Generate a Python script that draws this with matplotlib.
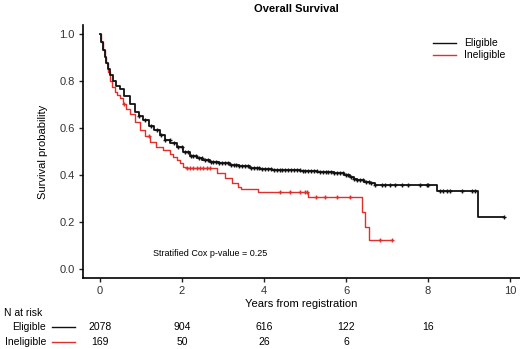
import numpy as np
import matplotlib
matplotlib.use("Agg")
import matplotlib.pyplot as plt
import matplotlib.transforms as mtransforms
from matplotlib.lines import Line2D

plt.rcParams['font.family'] = ['Liberation Sans', 'DejaVu Sans']

# Kaplan-Meier step points (years, survival)
elig_t = [0, 0.04, 0.08, 0.12, 0.16, 0.2, 0.25, 0.32, 0.4, 0.49, 0.6, 0.73, 0.85, 0.95,
          1.06, 1.2, 1.33, 1.46, 1.6, 1.71, 1.87, 2.03, 2.2, 2.36, 2.5, 2.68, 2.9, 3.17,
          3.4, 3.66, 3.9, 4.2, 4.5, 4.88, 5.3, 5.7, 5.95, 6.1, 6.2, 6.27, 6.45, 6.59, 6.7,
          8.22, 9.22, 9.84]
elig_s = [1.0, 0.965, 0.93, 0.90, 0.875, 0.85, 0.825, 0.80, 0.78, 0.765, 0.735, 0.70, 0.67,
          0.65, 0.634, 0.61, 0.59, 0.57, 0.55, 0.535, 0.52, 0.50, 0.482, 0.472, 0.465, 0.457,
          0.45, 0.443, 0.437, 0.43, 0.426, 0.423, 0.42, 0.416, 0.412, 0.407, 0.40, 0.392,
          0.385, 0.379, 0.372, 0.366, 0.357, 0.332, 0.221, 0.221]

inel_t = [0, 0.04, 0.08, 0.12, 0.16, 0.2, 0.24, 0.3, 0.37, 0.43, 0.49, 0.57, 0.65, 0.73,
          0.85, 0.98, 1.1, 1.22, 1.38, 1.54, 1.71, 1.79, 1.87, 1.95, 2.03, 2.1, 2.85, 3.05,
          3.21, 3.37, 3.45, 3.86, 5.08, 6.38, 6.46, 6.55, 7.11]
inel_s = [1.0, 0.965, 0.93, 0.90, 0.875, 0.84, 0.80, 0.775, 0.755, 0.74, 0.726, 0.70, 0.68,
          0.66, 0.625, 0.59, 0.565, 0.54, 0.52, 0.506, 0.49, 0.475, 0.464, 0.45, 0.435,
          0.428, 0.407, 0.386, 0.364, 0.35, 0.339, 0.329, 0.305, 0.244, 0.18, 0.123, 0.123]

# censoring times
elig_cens = [0.95, 1.1, 1.25, 1.4, 1.5, 1.6, 1.7, 1.8, 1.9, 2.0, 2.07, 2.14, 2.21, 2.28,
             2.35, 2.42, 2.49, 2.56, 2.63, 2.7, 2.77, 2.84, 2.91, 2.98, 3.05, 3.12, 3.19,
             3.26, 3.33, 3.4, 3.47, 3.54, 3.61, 3.68, 3.75, 3.82, 3.89, 3.96, 4.03, 4.1,
             4.17, 4.24, 4.31, 4.38, 4.45, 4.52, 4.59, 4.66, 4.73, 4.8, 4.87, 4.94, 5.01,
             5.08, 5.15, 5.22, 5.29, 5.36, 5.43, 5.5, 5.57, 5.64, 5.71, 5.78, 5.85, 5.92,
             5.99, 6.06, 6.13, 6.2, 6.27, 6.34, 6.41, 6.48, 6.55, 6.62, 6.7, 6.87, 6.95,
             7.07, 7.2, 7.36, 7.52, 7.8, 7.97, 8.0, 8.29, 8.37, 8.46, 8.54, 8.82, 9.07,
             9.15, 9.84]
inel_cens = [0.6, 1.2, 2.12, 2.2, 2.28, 2.36, 2.44, 2.52, 2.6, 2.68, 4.39, 4.63, 4.88,
             5.0, 5.04, 5.28, 5.49, 5.77, 6.1, 6.83, 7.11]

risk_times = [0, 2, 4, 6, 8]
elig_risk = ["2078", "904", "616", "122", "16"]
inel_risk = ["169", "50", "26", "6"]

BLACK = "#111111"
RED = "#e0302c"


def surv_at(times, surv, c):
    idx = np.searchsorted(times, c, side="right") - 1
    return np.asarray(surv)[idx]


fig = plt.figure(figsize=(5.2, 3.49), dpi=100)
ax = fig.add_axes([83 / 520, 1 - 278 / 349, 1 - 83 / 520, (278 - 25) / 349])

for t, s, cens, col, lw in [(inel_t, inel_s, inel_cens, RED, 1.0),
                            (elig_t, elig_s, elig_cens, BLACK, 1.3)]:
    ax.plot(t, s, drawstyle="steps-post", color=col, lw=lw)
    ax.plot(cens, surv_at(t, s, cens), ls="none", marker="+", ms=3.5, mew=1.0, color=col)

ax.set_xlim(-0.41, 10.24)
ax.set_ylim(-0.038, 1.038)
ax.set_xticks([0, 2, 4, 6, 8, 10])
ax.set_yticks([0.0, 0.2, 0.4, 0.6, 0.8, 1.0])
ax.set_yticklabels(["0.0", "0.2", "0.4", "0.6", "0.8", "1.0"])
ax.spines["top"].set_visible(False)
ax.spines["right"].set_visible(False)
for sp in ("left", "bottom"):
    ax.spines[sp].set_linewidth(1.2)
ax.tick_params(direction="out", length=3, width=1, labelsize=8, colors="#222222", pad=3)
for lab in ax.get_xticklabels() + ax.get_yticklabels():
    lab.set_color("#333333")

ax.set_ylabel("Survival probability", fontsize=8, labelpad=8)
ax.set_xlabel("Years from registration", fontsize=8, labelpad=2)
ax.text(1.29, 0.068, "Stratified Cox p-value = 0.25", fontsize=6.5, va="center")

fig.text(296 / 520, 1 - 9 / 349, "Overall Survival", fontsize=8, fontweight="bold",
         ha="center", va="center")

handles = [Line2D([], [], color=BLACK, lw=1), Line2D([], [], color=RED, lw=1)]
fig.legend(handles, ["Eligible", "Ineligible"], loc="upper left",
           bbox_to_anchor=(428 / 520, 1 - 33 / 349), frameon=False, fontsize=7.5,
           handlelength=2.2, handletextpad=0.8, labelspacing=0.2, borderpad=0)

# number at risk table
trans = mtransforms.blended_transform_factory(ax.transData, fig.transFigure)
fig.text(4 / 520, 1 - 313 / 349, "N at risk", fontsize=7.5, va="center")
for label, vals, col, y in [("Eligible", elig_risk, BLACK, 327), ("Ineligible", inel_risk, RED, 342)]:
    yf = 1 - y / 349
    fig.text(46 / 520, yf, label, fontsize=7.5, ha="right", va="center")
    fig.add_artist(Line2D([52 / 520, 75 / 520], [yf, yf], color=col, lw=1,
                          transform=fig.transFigure))
    for xt, v in zip(risk_times, vals):
        fig.text(xt, yf, v, fontsize=7.5, ha="center", va="center", transform=trans)

fig.savefig("out.png", dpi=100)
